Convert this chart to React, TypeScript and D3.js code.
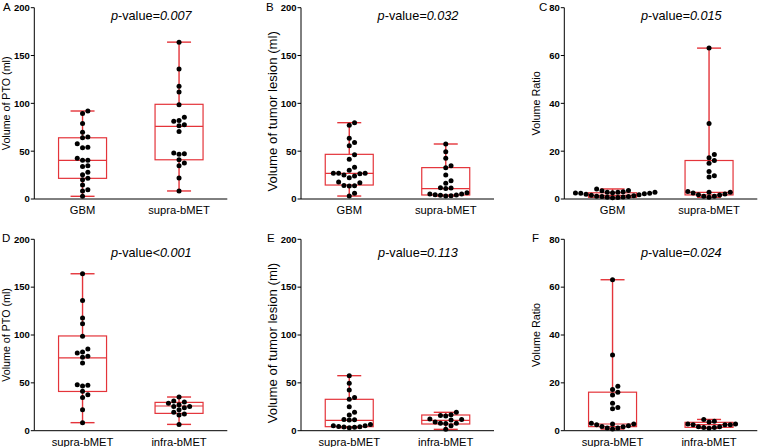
import React from 'react';
import * as d3 from 'd3';

// ---- data ----
const PTO_GBM = [92, 89.5, 79, 69.7, 64, 64.8, 57.8, 53.7, 54, 42.5, 40.4, 40.4, 34.8, 34.1, 27.9, 25.4, 21.6, 20.2, 14.6, 9.8, 8.4, 2.8];
const PTO_SUPRA = [164, 136, 117.8, 111.8, 98.6, 82.2, 85.4, 81.2, 76.7, 77.7, 70.7, 47.4, 46.7, 48, 41.1, 37.6, 34.8, 22, 8.4];
const PTO_INFRA = [35.2, 31, 29.9, 27.2, 28.6, 22, 25.4, 25.4, 24, 17.4, 16.4, 19.2, 6.6];
const TUMOR_GBM = [79.8, 77, 63.4, 59.2, 55.7, 46.3, 41.5, 33.1, 30, 26.8, 25.1, 26.5, 27, 26.9, 22.3, 24, 17.8, 13.9, 13.7, 14.1, 17.1, 5.9, 3.1];
const TUMOR_SUPRA = [57.5, 49.5, 42.5, 34.8, 32.8, 25.1, 19.2, 16.4, 11.5, 11.1, 11.8, 5.2, 4.2, 3.5, 3.8, 3.1, 4.5, 5.2, 6.6];
const TUMOR_INFRA = [19.2, 16.7, 15.3, 16, 11.8, 11.1, 12.2, 9.1, 7.7, 7.6, 7.8, 5.2, 1.4];
const RATIO_GBM = [4.2, 3.6, 3.5, 3.0, 2.8, 2.8, 2.8, 2.6, 2.5, 2.4, 2.4, 2.2, 2.0, 1.8, 1.6, 1.4, 1.2, 1.0, 1.0, 0.8, 0.7, 0.6, 0.5];
const RATIO_SUPRA = [63.1, 31.6, 18.6, 17.2, 16.1, 14.9, 11.5, 9.7, 9.2, 2.8, 2.5, 3.1, 1.8, 1.1, 0.7, 1.1, 1.7, 2.1, 2.8];
const RATIO_INFRA = [4.7, 3.9, 3.6, 2.8, 2.5, 2.5, 2.5, 2.8, 1.7, 1.0, 1.3, 1.7, 1.3];

// box stats: [q1, median, q3]
const BOX_PTO_GBM = [21.6, 40.4, 64];
const BOX_PTO_SUPRA = [41, 76, 99];
const BOX_PTO_INFRA = [18.1, 25.8, 29.6];
const BOX_TUMOR_GBM = [14.6, 26.8, 46.7];
const BOX_TUMOR_SUPRA = [4.2, 10.8, 32.8];
const BOX_TUMOR_INFRA = [7, 10.8, 16.4];
const BOX_RATIO_GBM = [0.7, 1.5, 2.6];
const BOX_RATIO_SUPRA = [1.7, 2.8, 16.1];
const BOX_RATIO_INFRA = [1.4, 2.5, 3.5];

const TICKS_VOLUME = [0, 50, 100, 150, 200];
const TICKS_RATIO = [0, 20, 40, 60, 80];

const LETTERS = ['A', 'B', 'C', 'D', 'E', 'F'];
const Y_TITLES = ['Volume of PTO (ml)', 'Volume of tumor lesion (ml)', 'Volume Ratio'];
const P_OPS = ['=', '=', '=', '<', '=', '='];
const P_VALUES = ['0.007', '0.032', '0.015', '0.001', '0.113', '0.024'];

const CAT_GBM = 'GBM';
const CAT_SUPRA = 'supra-bMET';
const CAT_INFRA = 'infra-bMET';

// ---- layout ----
const FONT = 'Liberation Sans, Arial, Helvetica, sans-serif';
const RED = '#e4343a';
const AXIS_X = [34.3, 301, 564.3];
const AXIS_W = 193;
const ROW_TOP = [7.7, 239.3];
const ROW_BOTTOM = [199, 430.7];
const LETTER_X = [3, 266, 539, 2, 267, 532];
const LETTER_Y = [10.5, 242];
const PVAL_Y = [19.5, 256.5];
const TITLE_BASE_X = [10, 277, 540];
const TITLE_SIZE = [10.7, 13.2, 10.8];
const TITLE_DY = [0, 8, 0];
const BOX_HALF = 24;
const CAP_HALF = 12;
const DOT_R = 2.5;
const DOT_SPACING = 5.3;
const DOT_VGAP = 4.8;

type Group = { label: string; values: number[]; box: number[] };
type Panel = { idx: number; col: number; row: number; yMax: number; ticks: number[]; groups: Group[] };

const panels: Panel[] = [
  { idx: 0, col: 0, row: 0, yMax: 200, ticks: TICKS_VOLUME, groups: [{ label: CAT_GBM, values: PTO_GBM, box: BOX_PTO_GBM }, { label: CAT_SUPRA, values: PTO_SUPRA, box: BOX_PTO_SUPRA }] },
  { idx: 1, col: 1, row: 0, yMax: 200, ticks: TICKS_VOLUME, groups: [{ label: CAT_GBM, values: TUMOR_GBM, box: BOX_TUMOR_GBM }, { label: CAT_SUPRA, values: TUMOR_SUPRA, box: BOX_TUMOR_SUPRA }] },
  { idx: 2, col: 2, row: 0, yMax: 80, ticks: TICKS_RATIO, groups: [{ label: CAT_GBM, values: RATIO_GBM, box: BOX_RATIO_GBM }, { label: CAT_SUPRA, values: RATIO_SUPRA, box: BOX_RATIO_SUPRA }] },
  { idx: 3, col: 0, row: 1, yMax: 200, ticks: TICKS_VOLUME, groups: [{ label: CAT_SUPRA, values: PTO_SUPRA, box: BOX_PTO_SUPRA }, { label: CAT_INFRA, values: PTO_INFRA, box: BOX_PTO_INFRA }] },
  { idx: 4, col: 1, row: 1, yMax: 200, ticks: TICKS_VOLUME, groups: [{ label: CAT_SUPRA, values: TUMOR_SUPRA, box: BOX_TUMOR_SUPRA }, { label: CAT_INFRA, values: TUMOR_INFRA, box: BOX_TUMOR_INFRA }] },
  { idx: 5, col: 2, row: 1, yMax: 80, ticks: TICKS_RATIO, groups: [{ label: CAT_SUPRA, values: RATIO_SUPRA, box: BOX_RATIO_SUPRA }, { label: CAT_INFRA, values: RATIO_INFRA, box: BOX_RATIO_INFRA }] },
];

// simple swarm: dots in a row sit side by side, dots a few pixels apart may stack
function swarm(ys: number[]): { y: number; dx: number }[] {
  const order = ys.map((y, i) => ({ y, i })).sort((a, b) => b.y - a.y);
  const placed: { y: number; dx: number }[] = [];
  for (const p of order) {
    let chosen = 0;
    for (let k = 0; k < 40; k++) {
      const cand = k === 0 ? 0 : (k % 2 === 1 ? 1 : -1) * Math.ceil(k / 2) * DOT_SPACING;
      const ok = placed.every((q) => Math.abs(q.dx - cand) >= DOT_SPACING * 0.97 || Math.abs(q.y - p.y) >= DOT_VGAP);
      if (ok) { chosen = cand; break; }
    }
    placed.push({ y: p.y, dx: chosen });
  }
  return placed;
}

function PanelView({ p }: { p: Panel }) {
  const ax = AXIS_X[p.col];
  const y = d3.scaleLinear().domain([0, p.yMax]).range([ROW_BOTTOM[p.row], ROW_TOP[p.row]]);
  const x = d3.scalePoint<string>().domain(p.groups.map((g) => g.label)).range([ax, ax + AXIS_W]).padding(0.5);
  const y0 = y(0);
  const titleY = (ROW_TOP[p.row] + ROW_BOTTOM[p.row]) / 2 + TITLE_DY[p.col];
  const titleX = TITLE_BASE_X[p.col];
  return (
    <g>
      <text x={LETTER_X[p.idx]} y={LETTER_Y[p.row]} fontSize={11.5} fontFamily={FONT}>{LETTERS[p.idx]}</text>
      <text transform={`translate(${titleX},${titleY}) rotate(-90)`} textAnchor="middle" fontSize={TITLE_SIZE[p.col]} fontFamily={FONT}>{Y_TITLES[p.col]}</text>
      <text x={ax + 117} y={PVAL_Y[p.row]} textAnchor="middle" fontSize={12.7} fontFamily={FONT}>
        <tspan fontStyle="italic">p</tspan>-value<tspan fontStyle="italic">{P_OPS[p.idx] + P_VALUES[p.idx]}</tspan>
      </text>
      {p.groups.map((g) => {
        const cx = x(g.label) as number;
        const [q1, med, q3] = g.box;
        const [mn, mx] = d3.extent(g.values) as [number, number];
        const pts = swarm(g.values.map((v) => y(v)));
        return (
          <g key={g.label}>
            <line x1={cx} x2={cx} y1={y(mx)} y2={y(q3)} stroke={RED} strokeWidth={1.4} />
            <line x1={cx} x2={cx} y1={y(q1)} y2={y(mn)} stroke={RED} strokeWidth={1.4} />
            <line x1={cx - CAP_HALF} x2={cx + CAP_HALF} y1={y(mx)} y2={y(mx)} stroke={RED} strokeWidth={1.4} />
            <line x1={cx - CAP_HALF} x2={cx + CAP_HALF} y1={y(mn)} y2={y(mn)} stroke={RED} strokeWidth={1.4} />
            <rect x={cx - BOX_HALF} y={y(q3)} width={BOX_HALF * 2} height={y(q1) - y(q3)} fill="none" stroke={RED} strokeWidth={1.2} />
            <line x1={cx - BOX_HALF} x2={cx + BOX_HALF} y1={y(med)} y2={y(med)} stroke={RED} strokeWidth={1.2} />
            {pts.map((pt, i) => (
              <circle key={i} cx={cx + pt.dx} cy={pt.y} r={DOT_R} fill="#000" />
            ))}
            <text x={cx} y={y0 + 15} textAnchor="middle" fontSize={11.2} fontFamily={FONT}>{g.label}</text>
          </g>
        );
      })}
      <line x1={ax} x2={ax} y1={y(p.yMax)} y2={y0} stroke="#000" strokeWidth={1} />
      <line x1={ax} x2={ax + AXIS_W} y1={y0} y2={y0} stroke="#000" strokeWidth={1} />
      {p.ticks.map((t) => (
        <g key={t}>
          <line x1={ax - 3.5} x2={ax} y1={y(t)} y2={y(t)} stroke="#000" strokeWidth={1} />
          <text x={ax - 4.5} y={y(t)} dy="0.35em" textAnchor="end" fontSize={9.5} fontWeight="bold" fontFamily={FONT}>{t}</text>
        </g>
      ))}
    </g>
  );
}

export default function App() {
  return (
    <svg width={758} height={447} style={{ position: 'absolute', left: 0, top: 0, background: '#fff' }}>
      <rect width={758} height={447} fill="#fff" />
      {panels.map((p) => <PanelView key={p.idx} p={p} />)}
    </svg>
  );
}
